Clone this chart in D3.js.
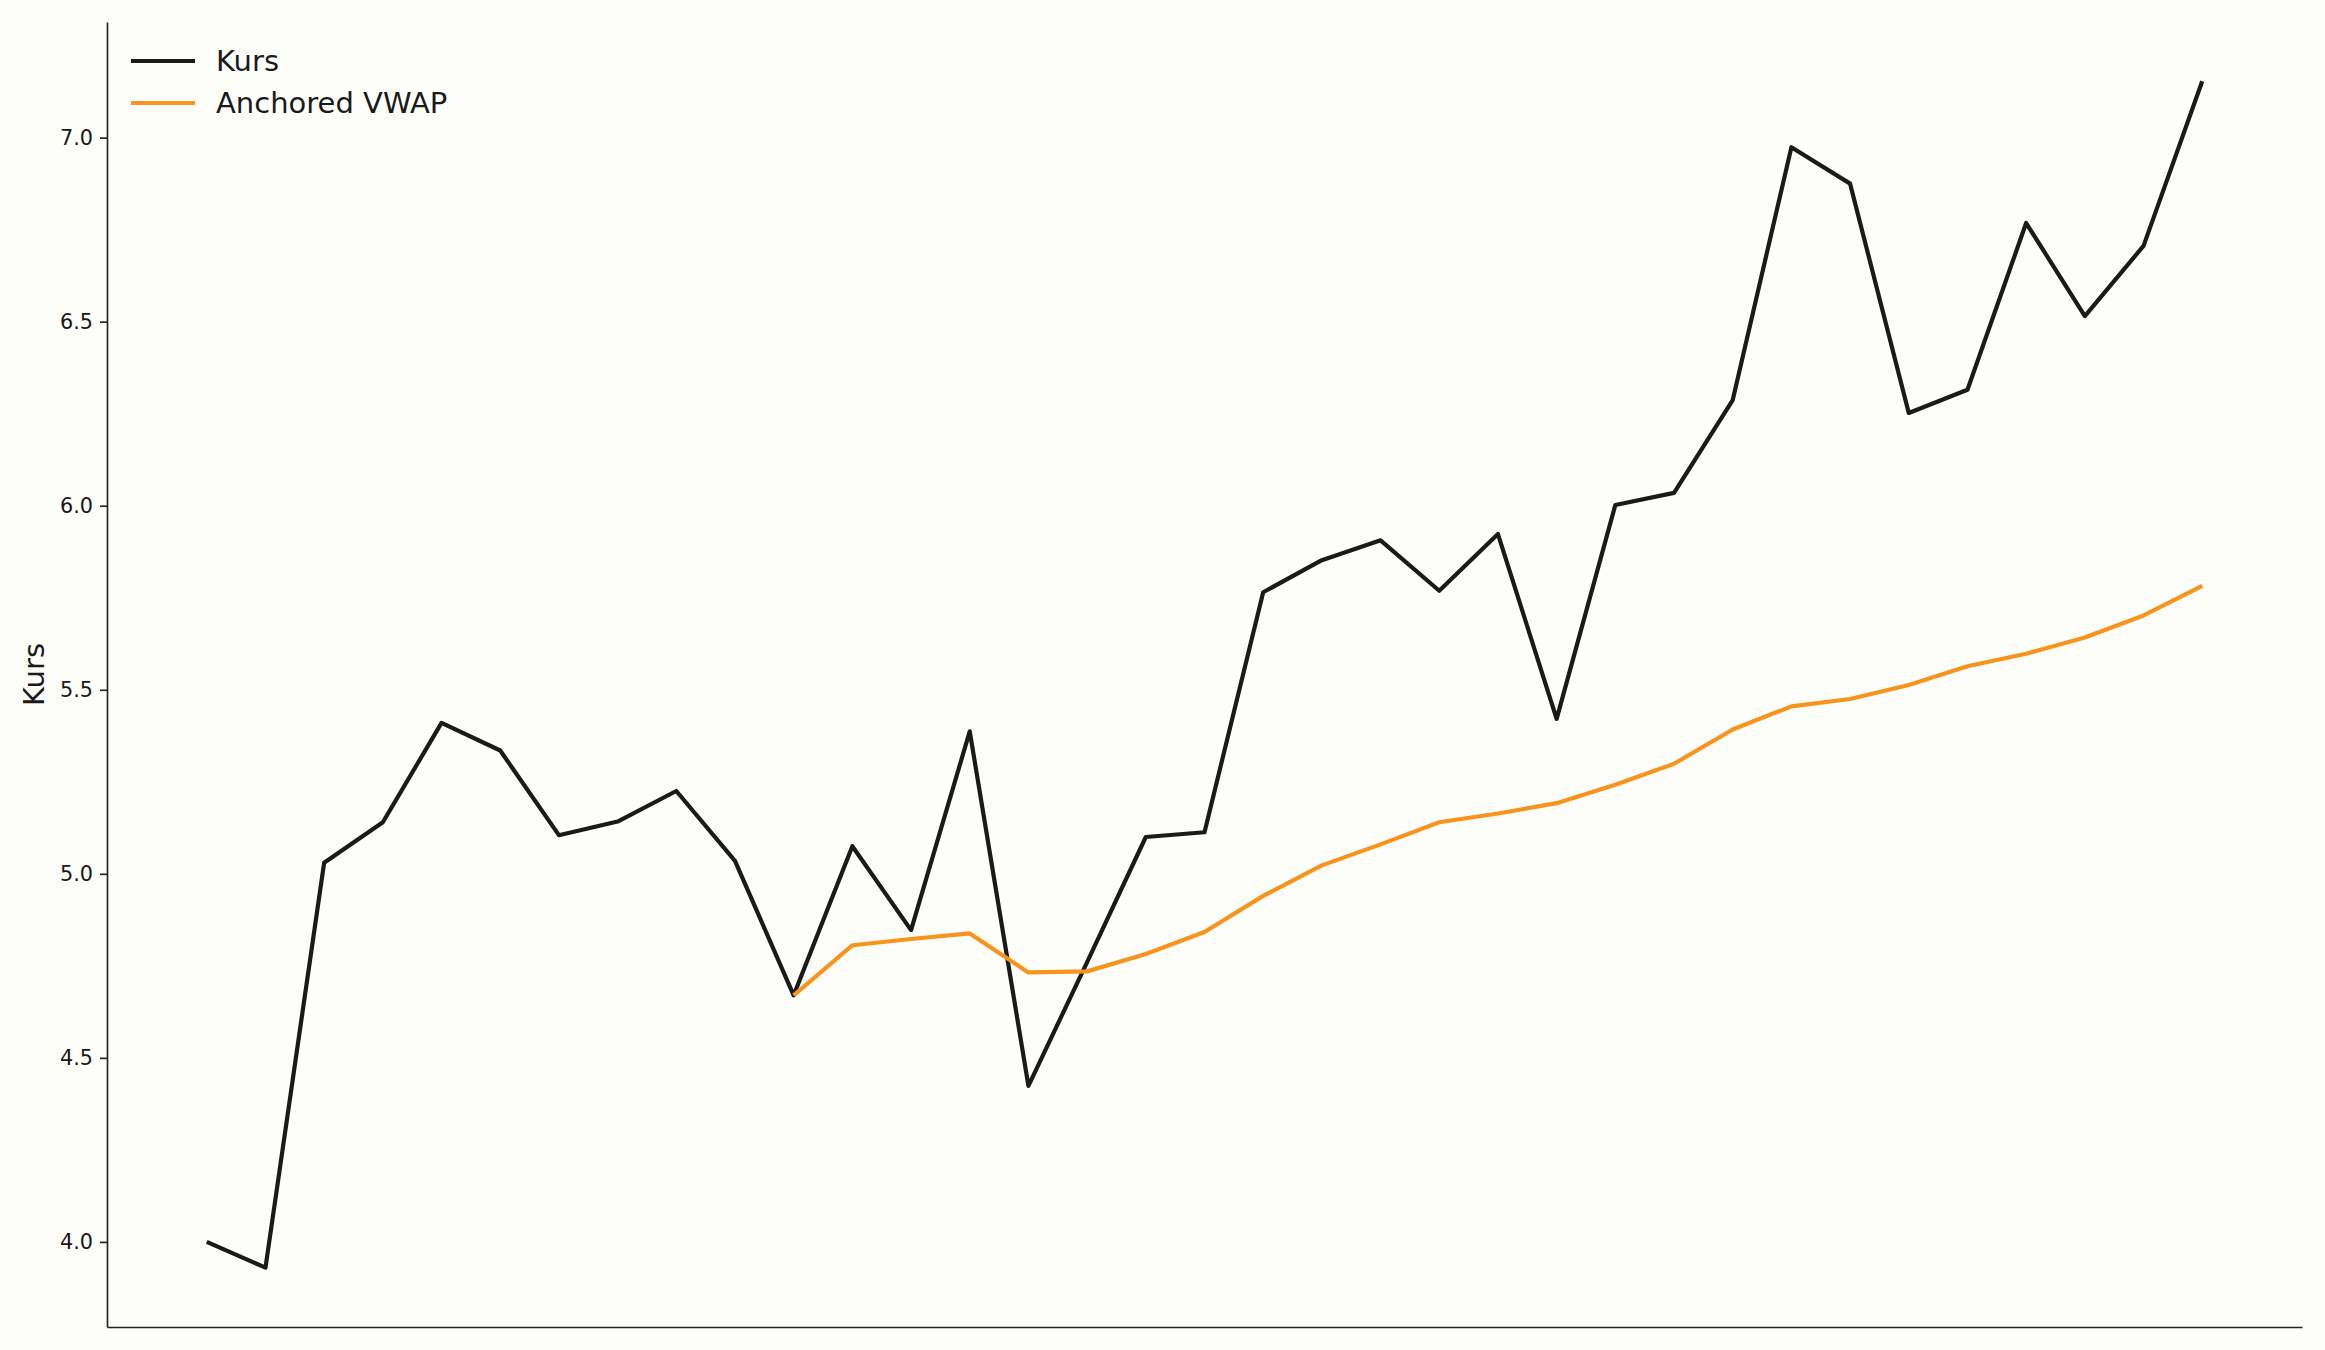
<!DOCTYPE html>
<html lang="de">
<head>
<meta charset="UTF-8">
<title>Kurs / Anchored VWAP</title>
<style>
  body { margin: 0; background: #fdfdf9; }
  svg { display: block; font-family: "DejaVu Sans", sans-serif; }
</style>
</head>
<body>
<svg id="chart"></svg>
<script src="https://d3js.org/d3.v7.min.js"></script>
<script>
// data, one value per period
var kurs = [4.00, 3.93, 5.03, 5.14, 5.41, 5.335, 5.105, 5.142, 5.225, 5.035,
            4.67, 5.075, 4.847, 5.387, 4.424, 4.76, 5.10, 5.113, 5.765, 5.852,
            5.906, 5.769, 5.923, 5.421, 6.002, 6.035, 6.287, 6.974, 6.875, 6.252,
            6.315, 6.768, 6.515, 6.706, 7.153];
var vwapStart = 10;
var vwap = [4.67, 4.806, 4.823, 4.838, 4.732, 4.735, 4.782, 4.842, 4.94, 5.023,
            5.08, 5.14, 5.164, 5.192, 5.242, 5.299, 5.392, 5.455, 5.475, 5.513,
            5.564, 5.598, 5.642, 5.702, 5.782];
var yTicks = [4.0, 4.5, 5.0, 5.5, 6.0, 6.5, 7.0];
var seriesNames = ['Kurs', 'Anchored VWAP'];
var colors = ['#1a1a1a', '#f7941d'];

var W = 2325, H = 1350;
var plotL = 107, plotR = 2302, plotT = 22, plotB = 1327;

var svg = d3.select('#chart').attr('width', W).attr('height', H);

// matplotlib style 5% margins
var xPad = (kurs.length - 1) * 0.05;
var x = d3.scaleLinear().domain([-xPad, kurs.length - 1 + xPad]).range([plotL, plotR]);
var yMin = d3.min(kurs.concat(vwap)), yMax = d3.max(kurs.concat(vwap));
var yPad = (yMax - yMin) * 0.05;
var y = d3.scaleLinear().domain([yMin - yPad, yMax + yPad]).range([plotB, plotT]);

// y axis
var yAxis = d3.axisLeft(y).tickValues(yTicks).tickFormat(d3.format('.1f'))
  .tickSize(7).tickPadding(7).tickSizeOuter(0);
var gy = svg.append('g').attr('transform', 'translate(' + plotL + ',0)').call(yAxis);
gy.select('.domain').attr('stroke', '#262626').attr('stroke-width', 1.7);
gy.selectAll('.tick line').attr('stroke', '#262626').attr('stroke-width', 1.7);
gy.selectAll('.tick text').attr('font-size', 20.8).attr('fill', '#1a1a1a')
  .attr('font-family', '"DejaVu Sans", sans-serif');

// x axis, no ticks
var gx = svg.append('g').attr('transform', 'translate(0,' + plotB + ')')
  .call(d3.axisBottom(x).tickValues([]).tickSizeOuter(0));
gx.select('.domain').attr('stroke', '#262626').attr('stroke-width', 1.7);

svg.append('text')
  .attr('transform', 'translate(36,' + ((plotT + plotB) / 2) + ') rotate(-90)')
  .attr('text-anchor', 'middle').attr('dominant-baseline', 'middle')
  .attr('font-size', 29).attr('fill', '#1a1a1a').text('Kurs');

var line = d3.line().x(d => x(d.i)).y(d => y(d.v));

svg.append('path')
  .datum(kurs.map((v, i) => ({ i: i, v: v })))
  .attr('fill', 'none').attr('stroke', colors[0]).attr('stroke-width', 4.2)
  .attr('stroke-linejoin', 'round').attr('d', line);

svg.append('path')
  .datum(vwap.map((v, i) => ({ i: i + vwapStart, v: v })))
  .attr('fill', 'none').attr('stroke', colors[1]).attr('stroke-width', 4.2)
  .attr('stroke-linejoin', 'round').attr('d', line);

// legend
var lg = svg.append('g').attr('transform', 'translate(131,61)');
seriesNames.forEach((name, i) => {
  var row = lg.append('g').attr('transform', 'translate(0,' + (i * 42) + ')');
  row.append('line').attr('x1', 0).attr('x2', 64).attr('y1', 0).attr('y2', 0)
    .attr('stroke', colors[i]).attr('stroke-width', 4.2);
  row.append('text').attr('x', 85).attr('y', 0).attr('dy', '0.35em')
    .attr('font-size', 29).attr('fill', '#1a1a1a').text(name);
});
</script>
</body>
</html>
